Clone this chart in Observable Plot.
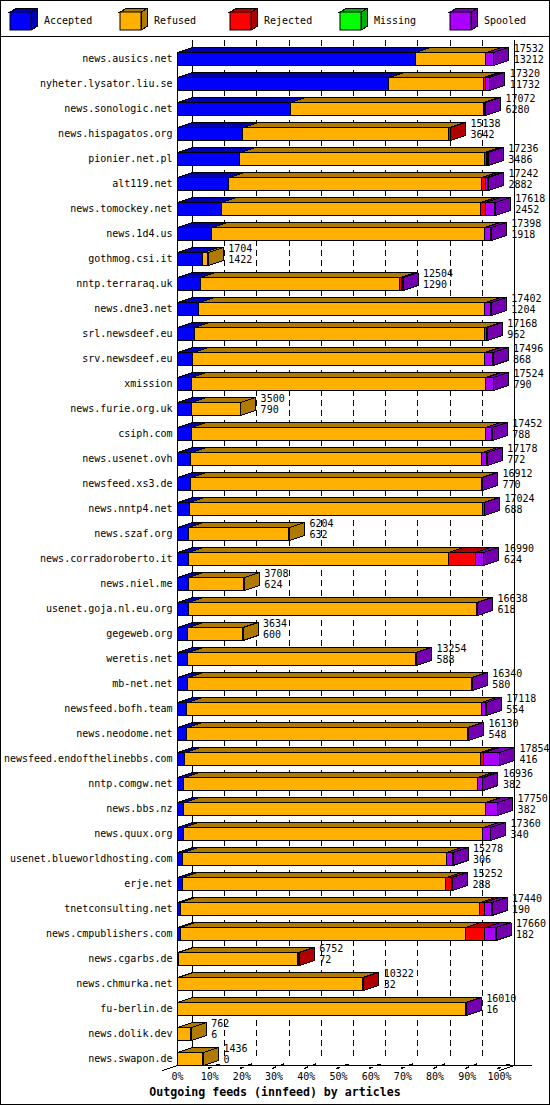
<!DOCTYPE html>
<html><head><meta charset="utf-8">
<script src="https://cdn.jsdelivr.net/npm/d3@7"></script>
<script src="https://cdn.jsdelivr.net/npm/@observablehq/plot@0.6"></script>
<style>
body{margin:0;background:#fff}
#wrap{position:relative;width:550px;height:1105px;background:#fff;overflow:hidden}
#border{position:absolute;left:0;top:0;width:550px;height:1105px;box-sizing:border-box;border:1px solid #000;pointer-events:none}
#legend{position:absolute;left:0;top:0;width:550px;height:36px;border-bottom:1px solid #000}
#legend svg{display:block}
#chart{position:absolute;left:0;top:37px}
#title{position:absolute;left:0;top:1085px;width:550px;text-align:center;font:bold 11.6px "DejaVu Sans Mono",monospace;line-height:14px;color:#000}
#chart svg path,#chart svg rect,#chart svg line,#legend svg polygon{shape-rendering:crispEdges}
</style></head><body>
<div id="wrap"><div id="legend"></div><div id="chart"></div><div id="title">Outgoing feeds (innfeed) by articles</div><div id="border"></div></div>
<script>
const hosts = ["news.ausics.net","nyheter.lysator.liu.se","news.sonologic.net","news.hispagatos.org","pionier.net.pl","alt119.net","news.tomockey.net","news.1d4.us","gothmog.csi.it","nntp.terraraq.uk","news.dne3.net","srl.newsdeef.eu","srv.newsdeef.eu","xmission","news.furie.org.uk","csiph.com","news.usenet.ovh","newsfeed.xs3.de","news.nntp4.net","news.szaf.org","news.corradoroberto.it","news.niel.me","usenet.goja.nl.eu.org","gegeweb.org","weretis.net","mb-net.net","newsfeed.bofh.team","news.neodome.net","newsfeed.endofthelinebbs.com","nntp.comgw.net","news.bbs.nz","news.quux.org","usenet.blueworldhosting.com","erje.net","tnetconsulting.net","news.cmpublishers.com","news.cgarbs.de","news.chmurka.net","fu-berlin.de","news.dolik.dev","news.swapon.de"];
const offered  = [17532,17320,17072,15138,17236,17242,17618,17398,1704,12504,17402,17168,17496,17524,3500,17452,17178,16912,17024,6204,16990,3708,16638,3634,13254,16340,17118,16130,17854,16936,17750,17360,15278,15252,17440,17660,6752,10322,16010,762,1436];
const accepted = [13212,11732,6280,3642,3486,2882,2452,1918,1422,1290,1204,962,868,790,790,788,772,770,688,632,624,624,618,600,588,580,554,548,416,382,382,340,306,288,190,182,72,32,16,6,0];
const refused  = [3920,5268,10712,11436,13550,14000,14376,15130,282,11054,15858,16106,16188,16314,2710,16294,16126,16102,16276,5572,14406,3084,15990,3034,12626,15730,16314,15552,16388,16284,16728,16620,14612,14624,16590,15788,6620,10230,15964,756,1436];
const rejected = [0,130,0,60,100,230,270,0,0,110,0,0,0,0,0,0,0,0,0,0,1500,0,0,0,0,0,0,0,190,0,0,0,0,300,260,1100,60,60,0,0,0];
const missing  = [0,0,0,0,0,0,0,0,0,0,0,0,0,0,0,0,0,0,0,0,0,0,0,0,0,0,0,0,0,0,0,0,0,0,0,0,0,0,0,0,0];
const spooled  = [400,190,80,0,100,130,520,350,0,50,340,100,440,420,0,370,280,40,60,0,460,0,30,0,40,30,250,30,860,270,640,400,360,40,400,590,0,0,30,0,0];
const seriesNames = ["Accepted","Refused","Rejected","Missing","Spooled"];
const frontColors = ["#0000ff","#ffb000","#ff0000","#00ff00","#aa00ff"];
const sideColors  = ["#0000b0","#b07900","#b00000","#00b000","#7500b0"];
const tickPercents = [0,10,20,30,40,50,60,70,80,90,100];
const tickLabels = ["0%","10%","20%","30%","40%","50%","60%","70%","80%","90%","100%"];

const series = [accepted, refused, rejected, missing, spooled];
const MAX = d3.max(offered);
const BAR_PX = 322;            // pixel length of the longest bar
const U = MAX / BAR_PX;        // articles per pixel
const DX = 15 * U;             // depth in x
const ROW = 25;
const DY = 5 / ROW;            // depth in y (rows)
const HH = 6.5 / ROW;          // half height of front face
const N = hosts.length;
const last = N - 1;
const FLOOR = last + HH;
const TOP = -0.74;

const tickVals = tickPercents.map(p => p / 100 * MAX);

const marks = [];
// back wall dashed grid
marks.push(Plot.ruleX(tickVals.slice(1, -1), {x: d => d + DX, y1: TOP, y2: FLOOR - DY, stroke: "#000", strokeDasharray: "6,4"}));
// back wall edges
marks.push(Plot.ruleX([DX, MAX + DX], {x: d => d, y1: TOP, y2: FLOOR, stroke: "#000"}));
// front left edge
marks.push(Plot.ruleX([0], {x: d => d, y1: -HH, y2: FLOOR, stroke: "#000"}));
// floor
marks.push(Plot.ruleY([FLOOR], {y: d => d, x1: 0, x2: 355 * U, stroke: "#000"}));
marks.push(Plot.link([{a: -DX, b: 0}, {a: MAX, b: MAX + DX}], {x1: "a", x2: "b", y1: FLOOR + DY, y2: FLOOR, stroke: "#000"}));
// tick marks on the floor
marks.push(Plot.link(tickVals.slice(1), {x1: d => d - 2 * U, x2: d => d + 10 * U, y1: FLOOR + 0.12, y2: FLOOR - 0.06, stroke: "#000", strokeWidth: 1.5, strokeDasharray: "4,5"}));

// bars: each segment a 3D box drawn left to right
series.forEach((vals, k) => {
  const segs = [];
  for (let i = 0; i < N; i++) {
    const v = vals[i];
    if (!(v > 0)) continue;
    let start = 0;
    for (let j = 0; j < k; j++) start += series[j][i];
    segs.push({i, x1: start, x2: start + v});
  }
  const tops = [], sides = [];
  segs.forEach((s, n) => {
    const yt = s.i - HH, yb = s.i + HH;
    const idt = "t" + n;
    [[s.x1, yt], [s.x2, yt], [s.x2 + DX, yt - DY], [s.x1 + DX, yt - DY], [s.x1, yt]].forEach(([x, y]) => tops.push({id: idt, x, y}));
    const ids = "s" + n;
    [[s.x2, yt], [s.x2 + DX, yt - DY], [s.x2 + DX, yb - DY], [s.x2, yb], [s.x2, yt]].forEach(([x, y]) => sides.push({id: ids, x, y}));
  });
  marks.push(Plot.rect(segs, {x1: "x1", x2: "x2", y1: d => d.i - HH, y2: d => d.i + HH, fill: frontColors[k], stroke: "#000", strokeWidth: 1}));
  marks.push(Plot.line(tops, {x: "x", y: "y", z: "id", fill: sideColors[k], stroke: "#000", strokeWidth: 1, curve: "linear"}));
  marks.push(Plot.line(sides, {x: "x", y: "y", z: "id", fill: sideColors[k], stroke: "#000", strokeWidth: 1, curve: "linear"}));
});

const rows = hosts.map((h, i) => ({i, total: offered[i], acc: accepted[i]}));
marks.push(Plot.text(rows, {x: d => d.total + DX, y: d => d.i - 0.4, text: d => String(d.total), textAnchor: "start", dx: 5, fill: "#000"}));
marks.push(Plot.text(rows, {x: d => d.total + DX, y: d => d.i + 0.05, text: d => String(d.acc), textAnchor: "start", dx: 5, fill: "#000"}));

const chart = Plot.plot({
  width: 550, height: 1048,
  marginLeft: 177, marginRight: 51, marginTop: 21.5, marginBottom: 26.5,
  style: {fontFamily: "DejaVu Sans Mono", fontSize: "10px", background: "#fff", color: "#000", overflow: "visible"},
  x: {domain: [0, MAX], ticks: tickVals, tickFormat: d => tickLabels[tickPercents.indexOf(Math.round(d / MAX * 100))], tickSize: 0, tickPadding: 14, label: null},
  y: {domain: [0, last], reverse: true, ticks: d3.range(N), tickFormat: i => hosts[i], tickSize: 0, tickPadding: 5, label: null},
  marks
});
document.getElementById("chart").appendChild(chart);

// legend with small cubes
const lg = d3.select("#legend").append("svg").attr("width", 550).attr("height", 36);
seriesNames.forEach((s, k) => {
  const x0 = 10 + 110 * k;
  const g = lg.append("g");
  const pts = a => a.map(p => p.join(",")).join(" ");
  g.append("polygon").attr("points", pts([[x0, 12], [x0 + 6, 8.5], [x0 + 27, 8.5], [x0 + 21, 12]])).attr("fill", sideColors[k]).attr("stroke", "#000");
  g.append("polygon").attr("points", pts([[x0 + 21, 12], [x0 + 27, 8.5], [x0 + 27, 26.5], [x0 + 21, 30]])).attr("fill", sideColors[k]).attr("stroke", "#000");
  g.append("rect").attr("x", x0).attr("y", 12).attr("width", 21).attr("height", 18).attr("fill", frontColors[k]).attr("stroke", "#000");
  g.append("text").attr("x", x0 + 34).attr("y", 21).attr("dominant-baseline", "middle").attr("font-family", "DejaVu Sans Mono").attr("font-size", "10px").attr("fill", "#000").text(s);
});
</script>
</body></html>
